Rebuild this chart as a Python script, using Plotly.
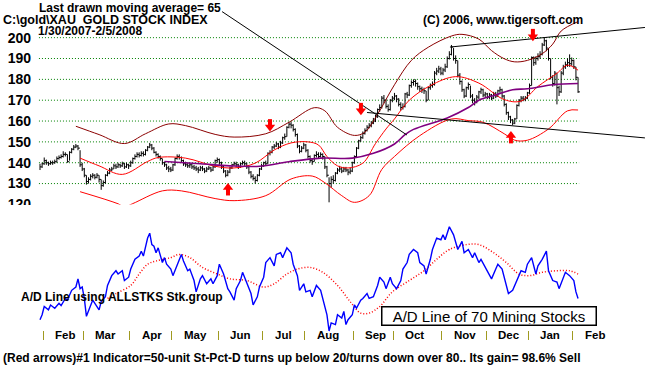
import plotly.graph_objects as go

W, H = 645, 372
FONT = "Liberation Sans, Arial, sans-serif"

# ---------------- XAU daily bars (trading-day index 0 = 1/30/2007 ... 255 = 2/5/2008)
close = [138, 139.5, 141, 140, 139.5, 140, 140, 140.5, 142, 142.5,
         143, 144, 144, 140.5, 145, 146.5, 147.5, 148, 147, 139,
         137, 134, 131, 132, 133.5, 134, 133, 134, 132, 129,
         130.5, 134, 135, 136.5, 137, 138.5, 138, 139, 138.5, 139.5,
         138, 139, 138.5, 140, 142, 143, 144, 143.5, 144.5, 144,
         146, 147.5, 148.5, 147, 145, 144, 143, 142, 140, 139,
         137.5, 137, 136.5, 139, 142, 143, 142.5, 141, 139.5, 139,
         138.5, 139, 138, 137.5, 137, 136.5, 137.5, 137, 136, 137,
         137.5, 136.5, 138, 141, 141.5, 140, 138, 136, 134, 135.5,
         137.5, 139, 139.5, 139, 138, 139.5, 140, 139.5, 138, 135.5,
         133.5, 132.5, 131.5, 134, 137, 138.5, 140, 139.5, 144.5, 145,
         147.5, 148, 149, 147.5, 149.5, 152, 152.5, 157, 158.5, 158,
         156, 153.5, 148, 145.5, 147, 148.5, 146, 143, 141, 140.5,
         143.5, 144, 143, 144, 143, 138, 134, 130, 132, 131.5,
         135, 136.5, 137, 136, 137, 136.5, 135.5, 136, 140, 143,
         147, 150.5, 152, 154, 155.5, 157, 158, 159, 160, 162,
         165.5, 166.5, 171, 170, 167, 165.5, 170, 171, 172, 170.5,
         168, 166.5, 167, 173, 172.5, 177, 178.5, 179, 178, 176.5,
         175.5, 175, 174.5, 170, 176, 177, 177.5, 183, 184, 185,
         183, 184.5, 186, 190, 192, 195.5, 190, 189, 182, 179,
         175, 172, 176, 177.5, 172, 170, 169, 171.5, 174, 175,
         172.5, 173, 171.5, 172.5, 171, 173, 172, 174.5, 175, 172,
         168, 164, 162, 160.5, 159, 161, 167.5, 170, 171, 170.5,
         171, 173.5, 177, 190.5, 188, 190, 191, 192, 196.5, 198.5,
         195, 190, 181, 178, 183, 176, 174, 183, 186, 187,
         188, 187.5, 189, 186, 181, 174]

high = [139.5, 140, 142.5, 141.5, 140.5, 141, 141, 141.5, 143, 143.5,
        144, 145.5, 145, 144, 145.5, 147, 148.5, 149, 148.5, 146,
        140, 137.5, 134, 133, 134.5, 135, 134.5, 135, 134, 132,
        131.5, 134.5, 136, 137.5, 138, 139.5, 139.5, 140, 139.5, 140.5,
        140, 140, 139.5, 141, 142.5, 144, 145, 145, 145.5, 145.5,
        146.5, 148, 149.5, 149, 147.5, 145.5, 144.5, 143.5, 142, 140.5,
        139.5, 138.5, 138, 139.5, 142.5, 144, 144, 143, 141.5, 140.5,
        140, 140, 139.5, 139, 138.5, 138, 138.5, 138.5, 137.5, 138,
        138.5, 138, 138.5, 141.5, 142.5, 142, 140.5, 138.5, 136.5, 136.5,
        138, 139.5, 140.5, 140.5, 139.5, 140, 141, 141, 140, 138.5,
        136, 134.5, 133.5, 134.5, 137.5, 139.5, 140.5, 141, 145, 146,
        148, 149, 150, 149.5, 150.5, 152.5, 154, 157.5, 159.5, 159.5,
        158.5, 156.5, 154, 148.5, 148, 149.5, 149, 146.5, 143.5, 142,
        144, 145.5, 145, 145, 144.5, 143, 138.5, 133, 133.5, 134,
        135.5, 137.5, 138.5, 138, 138, 138, 137, 137.5, 140.5, 143.5,
        147.5, 151, 153, 155, 156.5, 158, 159, 160, 161.5, 163,
        166, 168, 172, 172.5, 170.5, 168, 170.5, 172, 173.5, 172.5,
        171, 169, 168.5, 173.5, 174, 177.5, 179.5, 180, 180, 178.5,
        177, 176.5, 176, 174.5, 176.5, 178, 179, 184, 185.5, 186.5,
        186, 185.5, 187.5, 191, 193.5, 196.5, 195, 191.5, 189, 183,
        179.5, 175.5, 176.5, 178.5, 177, 173, 171, 172.5, 174.5, 176,
        175.5, 174, 173.5, 173.5, 173, 174, 174, 175, 176.5, 175.5,
        172.5, 168.5, 164.5, 162.5, 161, 161.5, 168, 170.5, 172, 172,
        172, 174, 178, 191, 191, 191, 192.5, 193.5, 197.5, 200,
        199, 195, 190, 182, 184, 183, 177, 184, 187, 188.5,
        190, 192, 190.5, 189.5, 186, 181]

low = [136.5, 137.5, 139, 139, 138.5, 139, 139, 139.5, 140, 141.5,
       142, 142.5, 143, 140, 141, 144.5, 146, 147, 146, 138,
       136, 133, 129.5, 130, 131.5, 132.5, 132, 132.5, 130.5, 127,
       128.5, 130, 133.5, 134.5, 136, 137, 137, 137.5, 137.5, 138,
       137, 137.5, 137, 138, 139.5, 141.5, 142.5, 142.5, 143, 143,
       143.5, 145.5, 147, 146, 144.5, 143, 142, 141, 139, 138,
       136.5, 135.5, 135.5, 136, 138.5, 141.5, 141.5, 140, 138.5, 138,
       137.5, 137.5, 137, 136.5, 136, 135, 136, 136, 135, 135.5,
       136.5, 135.5, 136, 137.5, 140, 139, 137, 135, 133, 133.5,
       135, 137, 138.5, 138, 137, 137.5, 139, 138.5, 137, 134.5,
       132.5, 131.5, 130, 131, 133.5, 136.5, 138, 138.5, 139.5, 143.5,
       144.5, 146.5, 147.5, 146.5, 147, 149, 151, 152.5, 156.5, 156.5,
       155, 152.5, 147, 144.5, 145, 146.5, 145, 142, 140, 139,
       140.5, 142.5, 142, 142.5, 141.5, 137, 133, 121, 128, 130,
       131, 134.5, 135.5, 135, 135.5, 135.5, 134, 134.5, 135.5, 139.5,
       142.5, 146.5, 150, 151.5, 153.5, 155, 156.5, 157, 158.5, 159.5,
       161.5, 164.5, 166, 168.5, 166, 164.5, 165, 169, 170, 169,
       167, 165, 165.5, 166.5, 171, 172, 176, 177, 176.5, 175,
       174, 173.5, 173, 169, 170, 175, 176, 177, 182, 183,
       182, 182, 183.5, 185.5, 189.5, 191.5, 189, 187.5, 181, 177.5,
       174, 171, 171.5, 175, 171, 168.5, 167.5, 168.5, 170.5, 173,
       171.5, 171.5, 170.5, 170.5, 170, 170.5, 171, 171.5, 173.5, 171,
       167, 163, 160.5, 159, 158, 158.5, 161, 167, 169, 169.5,
       169.5, 170.5, 173, 177, 186.5, 187, 189, 190, 191.5, 196,
       193.5, 189, 180, 176.5, 177, 168, 172, 173.5, 182, 185,
       186, 186, 186.5, 185, 179.5, 173.5]

# ---------------- bands (day index, value)
ub_idx = [17, 28, 40, 50, 61, 69, 83, 92, 107, 118, 130, 135, 141, 149, 154, 160, 168, 176, 184,
          195, 200, 208, 214, 220, 225, 231, 238, 243, 247, 255]
ub_val = [157.5, 153.5, 149.2, 153.9, 158.6, 157.8, 153.6, 152.3, 153.9, 159.4, 166.4, 164.9, 157,
          153.1, 154.7, 163.3, 177.4, 189.1, 195.4, 200.8, 201.6, 199.3, 193.8, 189.9, 188.4, 189.1,
          192.3, 196.9, 203.2, 207.7]

mb_idx = [19, 28, 39, 51, 56, 69, 83, 92, 102, 111, 119, 127, 132, 136, 141, 146, 153, 159, 164,
          168, 175, 185, 197, 208, 220, 228, 236, 245, 250, 255]
mb_val = [142.2, 138.5, 134.4, 140.6, 142.5, 142.2, 138.3, 137.5, 139.8, 146.1, 149.5, 150, 148.5,
          143, 138.5, 137.5, 139.8, 149.2, 156.2, 161, 170, 177, 181.3, 178.2, 170.3, 169.6, 176.6,
          182.9, 186.8, 184.4]

lb_idx = [19, 37, 40, 44, 58, 67, 83, 92, 107, 119, 129, 135, 143, 149, 156, 162, 168, 180, 195,
          203, 210, 220, 225, 231, 241, 250, 255]
lb_val = [126.1, 120.3, 118.8, 120.4, 126.5, 126.5, 122.8, 121.8, 124.2, 132.2, 133.6, 130.4, 124.2,
          121, 124.2, 136.8, 143, 153, 161, 160.2, 159.4, 153.9, 150.8, 150.8, 156.2, 164.9, 165.3]

ma65_idx = [59, 76, 90, 104, 118, 133, 148, 158, 168, 173, 177, 193, 203, 208, 216, 224, 231, 243, 255]
ma65_val = [140.6, 139.5, 138.5, 138.3, 140.5, 142.2, 142.2, 144.5, 149, 153.5, 156, 161.5, 166.5,
            170, 172.5, 175, 175.5, 177.4, 178]

# trend lines and the pointer line (day index, value)
tl_up_idx, tl_up_val = [194.3, 286.7], [195.5, 204.9]
tl_dn_idx, tl_dn_val = [155, 286.7], [164.1, 151.9]
ptr_idx, ptr_val = [86.3, 173.9], [212.5, 153.3]

# red signal arrows
arrow_idx = [89.1, 137.4, 223.2, 109, 152.1, 233.6]
arrow_tip = [129.7, 117.9, 154.7, 155.5, 163.3, 198.8]
arrow_dir = ['up', 'up', 'up', 'down', 'down', 'down']

# ---------------- A/D line (70 mining stocks), arbitrary units
ad_idx = [0, 1, 2, 4, 5, 7, 9, 10, 12, 13, 15, 17, 18, 19, 20, 21, 22, 24, 25, 27, 28, 29, 31, 32, 34,
          36, 37, 39, 40, 42, 43, 45, 47, 48, 49, 51, 52, 53, 54, 55, 56, 58, 59, 60, 62, 63, 65, 67,
          68, 70, 71, 73, 74, 76, 77, 79, 81, 82, 84, 85, 87, 89, 90, 92, 93, 95, 96, 98, 100, 101,
          103, 104, 106, 107, 109, 111, 112, 114, 115, 117, 119, 120, 122, 123, 125, 126, 128, 129,
          131, 133, 134, 136, 137, 138, 140, 141, 143, 144, 145, 146, 148, 149, 150, 152, 153, 155,
          156, 158, 160, 161, 163, 164, 166, 167, 169, 171, 172, 174, 175, 177, 179, 180, 182, 183,
          185, 186, 188, 190, 191, 192, 193, 194, 196, 197, 198, 200, 201, 203, 205, 206, 208, 209,
          211, 213, 214, 216, 217, 219, 220, 222, 224, 225, 227, 228, 230, 231, 233, 235, 236, 238,
          240, 241, 243, 245, 246, 248, 249, 251, 253, 254, 255]
ad_val = [13.3, 18.3, 26.7, 23.3, 28.3, 25, 30, 27.7, 35, 33.3, 43.3, 46.7, 55, 45, 46.7, 35, 16.7,
          28.3, 33.3, 26.7, 23.3, 31.7, 36.7, 48.3, 58.3, 63.3, 60, 63.3, 53.3, 56.7, 65, 75, 78.3,
          83.3, 78.3, 96.7, 101.7, 90, 88.3, 81.7, 86.7, 71.7, 76.7, 70, 65, 58.3, 68.3, 80, 73.3,
          63.3, 65, 53.3, 41.7, 55, 58.3, 50, 55, 50, 58.3, 70, 60, 45, 41.7, 33.3, 45, 53.3, 61.7,
          50, 40, 28.3, 36.7, 46.7, 56.7, 71.7, 76.7, 68.3, 80, 81.7, 76.7, 86.7, 81.7, 70, 58.3,
          43.3, 50, 41.7, 43.3, 36.7, 48.3, 43.3, 35, 18.3, 1.7, 10, 8.3, 18.3, 15, 21.7, 8.3, 13.3,
          18.3, 28.3, 25, 33.3, 35, 40, 35, 36.7, 48.3, 56.7, 51.7, 45, 56.7, 50, 45, 53.3, 65,
          71.7, 80, 85, 81.7, 71.7, 68.3, 60, 75, 85, 96.7, 95, 100, 95, 101.7, 108.3, 100, 91.7,
          85, 93.3, 81.7, 85, 76.7, 81.7, 71.7, 75, 66.7, 60, 55, 65, 70, 65, 56.7, 40, 43.3, 48.3,
          56.7, 63.3, 61.7, 70, 76.7, 60, 68.3, 75, 83.3, 63.3, 53.3, 51.7, 45, 55, 61.7, 58.3,
          53.3, 41.7, 35]

adma_idx = [32, 36, 43, 47, 51, 55, 62, 66, 71, 77, 84, 90, 98, 106, 111, 117, 122, 128, 134, 141,
            147, 152, 156, 161, 167, 175, 182, 188, 194, 202, 208, 215, 221, 227, 232, 238, 245, 251, 255]
adma_val = [35, 40, 48.3, 60, 70, 73.3, 76.7, 80, 76.7, 66.7, 60, 55, 53.3, 46.7, 50, 60, 65, 66.7,
            61.7, 48.3, 31.7, 20, 20, 26.7, 41.7, 53.3, 63.3, 75, 85, 90, 90, 81.7, 71.7, 60, 58.3,
            61.7, 63.3, 63.3, 60]

# ---------------- axis labels
price_ticks = [120, 130, 140, 150, 160, 170, 180, 190, 200]
month_names = ['Feb', 'Mar', 'Apr', 'May', 'Jun', 'Jul', 'Aug', 'Sep', 'Oct', 'Nov', 'Dec', 'Jan', 'Feb']
month_start = [2, 21, 43, 63, 85, 106, 126, 149, 168, 191, 212, 232, 253]

# ---------------- layout geometry (pixels)
X0_PX, STEP_PX = 40.0, 2.11          # day 0 position, pixels per trading day
Y200_PX, PX_PER_UNIT = 38.5, 2.13    # price 200 position, pixels per price point
PRICE_TOP_PX, PRICE_BOT_PX = 0, 209
AD_BASE_PX, AD_TOP_PX, AD_BOT_PX = 340, 222, 345
YLABEL_RIGHT_PX = 31


def px_x(p):
    return p / W


def px_y(p):
    return 1 - p / H


def price_at(py):
    return 200 - (py - Y200_PX) / PX_PER_UNIT


n = len(close)

# bar segments: high-low line plus close tick on the right
bx, by = [], []
for i in range(n):
    bx += [i, i, None, i, i + 0.9, None]
    by += [low[i], high[i], None, close[i], close[i], None]

fig = go.Figure()

fig.add_trace(go.Scatter(x=bx, y=by, mode='lines', line=dict(color='black', width=1),
                         hoverinfo='skip', xaxis='x', yaxis='y'))

fig.add_trace(go.Scatter(x=ub_idx, y=ub_val, mode='lines', line=dict(color='#8b0000', width=1, shape='spline'),
                         xaxis='x', yaxis='y'))
fig.add_trace(go.Scatter(x=mb_idx, y=mb_val, mode='lines', line=dict(color='#ff0000', width=1, shape='spline'),
                         xaxis='x', yaxis='y'))
fig.add_trace(go.Scatter(x=lb_idx, y=lb_val, mode='lines', line=dict(color='#ff0000', width=1, shape='spline'),
                         xaxis='x', yaxis='y'))
fig.add_trace(go.Scatter(x=ma65_idx, y=ma65_val, mode='lines', line=dict(color='#800080', width=1.6, shape='spline'),
                         xaxis='x', yaxis='y'))

for xs, ys in [(tl_up_idx, tl_up_val), (tl_dn_idx, tl_dn_val), (ptr_idx, ptr_val)]:
    fig.add_trace(go.Scatter(x=xs, y=ys, mode='lines', line=dict(color='black', width=1),
                             xaxis='x', yaxis='y'))

# arrows: triangle head + thick stem
head_y, stem_y, head_sym = [], [], []
for t, d in zip(arrow_tip, arrow_dir):
    s = 1 if d == 'up' else -1
    head_y.append(t - s * 1.6)
    stem_y.append(t - s * 3.4)
    head_sym.append('triangle-up' if d == 'up' else 'triangle-down')
fig.add_trace(go.Scatter(x=arrow_idx, y=stem_y, mode='markers', cliponaxis=False,
                         marker=dict(symbol='line-ns', size=6, line=dict(color='#ff0000', width=4)),
                         xaxis='x', yaxis='y'))
fig.add_trace(go.Scatter(x=arrow_idx, y=head_y, mode='markers', cliponaxis=False,
                         marker=dict(symbol=head_sym, size=9, color='#ff0000', line=dict(width=0)),
                         xaxis='x', yaxis='y'))

# A/D panel
fig.add_trace(go.Scatter(x=adma_idx, y=adma_val, mode='lines',
                         line=dict(color='#ff0000', width=1.5, dash='1px,2px', shape='spline'),
                         xaxis='x', yaxis='y2'))
fig.add_trace(go.Scatter(x=ad_idx, y=ad_val, mode='lines', line=dict(color='#0000ff', width=1.4),
                         xaxis='x', yaxis='y2'))

# dotted green price grid confined to the data span
shapes = []
for v in price_ticks[1:]:
    shapes.append(dict(type='line', xref='x', yref='y', x0=-0.5, x1=n - 0.5, y0=v, y1=v,
                       line=dict(color='#008000', width=1, dash='1px,2px'), layer='below'))
# hide the lower part of the clipped "120" label
shapes.append(dict(type='rect', xref='paper', yref='paper', x0=0, x1=px_x(36),
                   y0=px_y(224), y1=px_y(209.5), fillcolor='white', line=dict(width=0), layer='above'))

annotations = []


def txt(s, x, y, size=12, bold=True, anchor='left'):
    annotations.append(dict(text=s, x=px_x(x), y=px_y(y), xref='paper', yref='paper',
                            xanchor=anchor, yanchor='middle', showarrow=False,
                            font=dict(family=FONT, size=size, color='black',
                                      weight='bold' if bold else 'normal')))


txt('Last drawn moving average= 65', 37, 8.5, 12)
txt('C:\\gold\\XAU\u00a0\u00a0GOLD STOCK INDEX', 1, 20.5, 12.5)
txt('1/30/2007-2/5/2008', 36, 32, 12)
txt('(C) 2006, www.tigersoft.com', 421, 20.5, 12)
txt('A/D Line using ALLSTKS Stk.group', 19, 304, 12)
txt('(Red arrows)#1 Indicator=50-unit St-Pct-D turns up below 20/turns down over 80.. '
    'Its gain= 98.6% Sell', 1, 366, 12)

annotations.append(dict(text='A/D Line of 70 Mining Stocks', x=px_x(489), y=px_y(322.5),
                        xref='paper', yref='paper', xanchor='center', yanchor='middle',
                        showarrow=False, width=211, height=15, borderpad=1, borderwidth=1.5,
                        bordercolor='black', bgcolor='white',
                        font=dict(family=FONT, size=15, color='black')))

for name, st in zip(month_names, month_start):
    annotations.append(dict(text=name, x=st - 0.5, y=px_y(342.5), xref='x', yref='paper',
                            xanchor='left', yanchor='middle', xshift=10, showarrow=False,
                            font=dict(family=FONT, size=11.5, color='black', weight='bold')))

x_lo = -X0_PX / STEP_PX
x_hi = (W - X0_PX) / STEP_PX

fig.update_layout(
    width=W, height=H, margin=dict(l=0, r=0, t=0, b=0),
    paper_bgcolor='white', plot_bgcolor='white', showlegend=False,
    shapes=shapes, annotations=annotations,
    xaxis=dict(range=[x_lo, x_hi], domain=[0, 1], anchor='free', position=px_y(347),
               showgrid=False, zeroline=False, showline=False, showticklabels=False,
               tickmode='array', tickvals=[m - 0.5 for m in month_start],
               ticks='inside', ticklen=9, tickwidth=1, tickcolor='#a09a20'),
    yaxis=dict(domain=[px_y(PRICE_BOT_PX), px_y(PRICE_TOP_PX)],
               range=[price_at(PRICE_BOT_PX), price_at(PRICE_TOP_PX)],
               anchor='free', position=px_x(YLABEL_RIGHT_PX), side='left',
               showgrid=False, zeroline=False, showline=False, ticks='',
               tickmode='array', tickvals=price_ticks, ticktext=[str(v) for v in price_ticks],
               ticklabelposition='outside', ticklabelstandoff=0,
               tickfont=dict(family=FONT, size=14, color='black', weight='bold')),
    yaxis2=dict(domain=[px_y(AD_BOT_PX), px_y(AD_TOP_PX)],
                range=[AD_BASE_PX - AD_BOT_PX, AD_BASE_PX - AD_TOP_PX], anchor='x',
                showgrid=False, zeroline=False, showline=False, showticklabels=False, ticks=''),
)

fig.write_html("out.html", post_script="document.body.style.margin='0';",
               config={'displayModeBar': False})
